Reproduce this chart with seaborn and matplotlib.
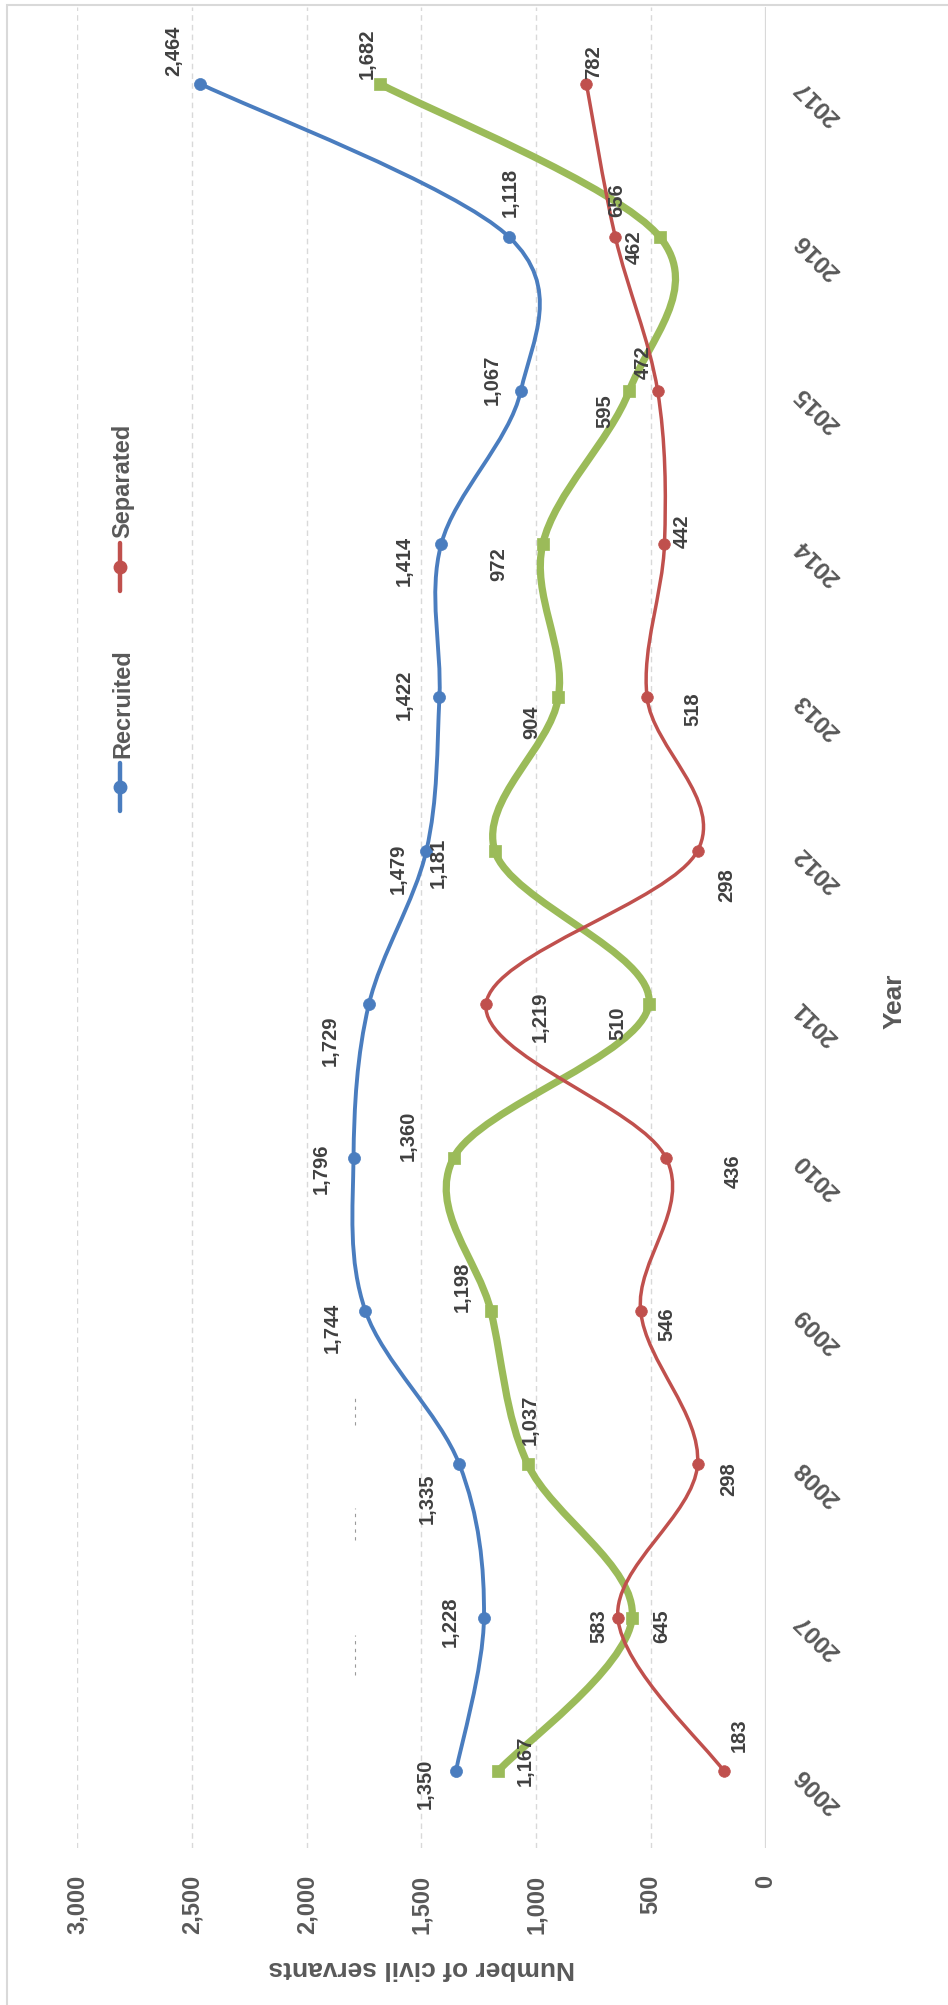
import numpy as np
import seaborn as sns
import matplotlib
matplotlib.use("Agg")
import matplotlib.pyplot as plt
from matplotlib.path import Path
from matplotlib.patches import PathPatch, Rectangle
from matplotlib.lines import Line2D

# ---------------- data ----------------
years = [2006, 2007, 2008, 2009, 2010, 2011, 2012, 2013, 2014, 2015, 2016, 2017]
recruited = [1350, 1228, 1335, 1744, 1796, 1729, 1479, 1422, 1414, 1067, 1118, 2464]
separated = [183, 645, 298, 546, 436, 1219, 298, 518, 442, 472, 656, 782]
net_change = [1167, 583, 1037, 1198, 1360, 510, 1181, 904, 972, 595, 462, 1682]
value_ticks = [0, 500, 1000, 1500, 2000, 2500, 3000]
series_names = ["Recruited", "Separated"]
x_title = "Number of civil servants"
y_title = "Year"

# ---------------- label offsets (pixels: right, down) ----------------
off_recruited = [(-31, 13), (-34, 4), (-32, 34), (-33, 17), (-32, 11), (-39, 37),
                 (-28, 18), (-35, -3), (-37, 17), (-29, -11), (1, -45), (-26, -33)]
off_separated = [(15, -36), (44, 8), (31, 15), (26, 13), (67, 14), (54, 13),
                 (29, 34), (46, 12), (18, -13), (-14, -28), (1, -37), (7, -22)]
off_net = [(27, -10), (-33, 8), (2, -45), (-29, -24), (-45, -22), (-31, 19),
           (-57, 12), (-27, 25), (-44, 20), (-24, 21), (-26, 10), (-12, -30)]

BLUE = "#4A7DBF"
RED = "#C0504D"
GREEN = "#9BBB59"
GRID = "#D9D9D9"
TXT = "#595959"
LBL = "#404040"

sns.set_theme(style="white")
plt.rcParams["font.family"] = ["Liberation Sans", "DejaVu Sans"]

W, H = 948, 2005
fig = plt.figure(figsize=(W / 100, H / 100), dpi=100)
fig.patch.set_facecolor("white")

def fx(px):
    return px / W

def fy(py):
    return 1 - py / H

# plot area: x 77..766 px, y 7..1848 px (from top)
PL, PR, PT, PB = 77, 766, 7, 1848
ax = fig.add_axes([fx(PL), fy(PB), (PR - PL) / W, (PB - PT) / H])
ax.set_facecolor("white")
ax.set_xlim(3000, 0)
ax.set_ylim(2005.5, 2017.5)
for s in ax.spines.values():
    s.set_visible(False)

# gridlines
for v in value_ticks:
    if v == 0:
        ax.axvline(v, color=GRID, lw=1.6, zorder=1)
    else:
        ax.axvline(v, color=GRID, lw=1.0, ls=(0, (4, 3)), zorder=1)

# faint stray dash marks seen in the original
for y0, y1 in [(1394, 1425), (1508, 1540), (1635, 1675)]:
    ax.axvline(1790, ymin=(PB - y1) / (PB - PT), ymax=(PB - y0) / (PB - PT),
               color="#9A9A9A", lw=0.8, ls=(0, (3, 4)), zorder=1)


def smooth_path(xs, ys):
    pts = np.column_stack([xs, ys]).astype(float)
    n = len(pts)
    verts = [pts[0]]
    codes = [Path.MOVETO]
    for i in range(n - 1):
        p0 = pts[i - 1] if i > 0 else pts[i]
        p1 = pts[i]
        p2 = pts[i + 1]
        p3 = pts[i + 2] if i + 2 < n else pts[i + 1]
        c1 = p1 + (p2 - p0) / 6.0
        c2 = p2 - (p3 - p1) / 6.0
        verts += [c1, c2, p2]
        codes += [Path.CURVE4] * 3
    return Path(verts, codes)


def draw_series(vals, color, lw, marker, ms_area, offsets, z):
    ax.add_patch(PathPatch(smooth_path(vals, years), facecolor="none",
                           edgecolor=color, lw=lw, zorder=z, capstyle="round",
                           joinstyle="round"))
    sns.scatterplot(x=vals, y=years, ax=ax, color=color, marker=marker, s=ms_area,
                    edgecolor=color, linewidth=0.5, zorder=z + 0.5, legend=False)
    for v, yr, (dx, dy) in zip(vals, years, offsets):
        ax.annotate(f"{v:,}", xy=(v, yr), xytext=(dx, -dy), textcoords="offset pixels",
                    rotation=90, ha="center", va="center", fontsize=14.5,
                    fontweight="bold", color=LBL, zorder=10)


draw_series(net_change, GREEN, 5.2, "s", 75, off_net, 3)
draw_series(separated, RED, 2.5, "o", 70, off_separated, 4)
draw_series(recruited, BLUE, 2.8, "o", 75, off_recruited, 5)

# value axis ticks (bottom)
ax.set_xticks(value_ticks)
ax.set_xticklabels([f"{v:,}" for v in value_ticks])
ax.tick_params(axis="x", length=0, pad=19, labelsize=17, labelcolor=TXT, labelrotation=90)
for lbl in ax.get_xticklabels():
    lbl.set_fontweight("bold")

# year axis ticks (right)
ax.yaxis.tick_right()
ax.set_yticks(years)
ax.set_yticklabels([str(y) for y in years])
ax.tick_params(axis="y", length=0, pad=23, labelsize=17.5, labelcolor=TXT)
for lbl in ax.get_yticklabels():
    lbl.set_rotation(135)
    lbl.set_rotation_mode("anchor")
    lbl.set_ha("right")
    lbl.set_va("center")
    lbl.set_fontweight("bold")

# axis titles
ax.set_xlabel(x_title, fontsize=19, fontweight="bold", color=TXT, rotation=180)
ax.xaxis.set_label_coords(0.5, (PB - 1968) / (PB - PT))
ax.xaxis.label.set_va("center")
ax.xaxis.label.set_ha("center")
ax.yaxis.set_label_position("right")
ax.set_ylabel(y_title, fontsize=19, fontweight="bold", color=TXT, rotation=90)
ax.yaxis.set_label_coords((895 - PL) / (PR - PL), (PB - 1001) / (PB - PT))
ax.yaxis.label.set_va("center")
ax.yaxis.label.set_ha("center")
ax.grid(False)

# manual rotated legend
legend_items = [(series_names[0], BLUE, 787, 758), (series_names[1], RED, 567, 538)]
for name, col, cy, ty in legend_items:
    fig.add_artist(Line2D([fx(120), fx(120)], [fy(cy - 24), fy(cy + 24)], color=col,
                          lw=3.2, transform=fig.transFigure))
    fig.add_artist(Line2D([fx(120)], [fy(cy)], marker="o", ms=9, color=col,
                          transform=fig.transFigure))
    fig.text(fx(123), fy(ty), name, rotation=90, rotation_mode="anchor", ha="left",
             va="center", fontsize=17, fontweight="bold", color=TXT)

# chart border
fig.add_artist(Rectangle((fx(7), -0.05), 1.2, fy(5) + 0.05, transform=fig.transFigure,
                         fill=False, ec=GRID, lw=1.5))

fig.savefig("out.png", dpi=100, facecolor="white")
